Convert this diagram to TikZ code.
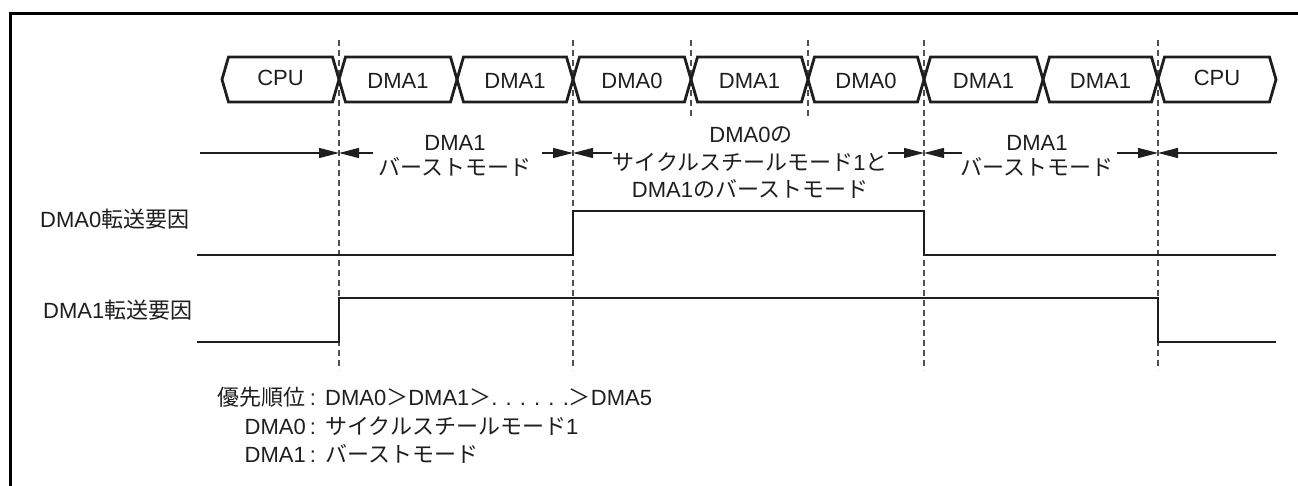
\documentclass[tikz,border=0pt]{standalone}
\usepackage{fontspec}
\setmainfont{Liberation Sans}
\newfontfamily\jp{Noto Sans CJK JP}
\usetikzlibrary{arrows.meta}
\newcommand\fsz{\fontsize{22}{27}\selectfont}
\definecolor{guidegray}{RGB}{80,80,80}
\definecolor{inkgray}{RGB}{30,30,30}
\tikzset{
  frameline/.style={line width=3pt},
  busline/.style={line width=2.8pt, line join=miter, color=inkgray},
  sigline/.style={line width=2.8pt, line join=miter, color=inkgray},
  guide/.style={line width=1.1pt, color=guidegray, dash pattern=on 6pt off 4pt},
  arr/.style={line width=1.3pt, color=inkgray, -{Triangle[length=20pt,width=10pt]}},
  txt/.style={font=\fsz, inner sep=0pt, anchor=base, text=inkgray},
}
\begin{document}
\begin{tikzpicture}[x=1pt,y=-1pt]
\useasboundingbox (0,0) rectangle (1298,486);
% frame
\draw[frameline] (10,486) -- (10,14) -- (1298,14);
% guide lines
\foreach \gx in {339,573,924,1158} { \draw[guide] (\gx,40) -- (\gx,370); }
\foreach \gx in {691,808} { \draw[guide] (\gx,40) -- (\gx,118); }
% bus cells
\foreach \a/\b/\t/\bl/\n in {222/339/CPU/86/c1, 339/457/DMA1/89/c2, 457/573/DMA1/89/c3,
  573/691/DMA0/89/c4, 691/808/DMA1/89/c5, 808/924/DMA0/89/c6,
  924/1043/DMA1/89/c7, 1043/1158/DMA1/89/c8, 1158/1276/CPU/86/c9} {
  \draw[busline] (\a,79.5) -- (\a+6.5,57) -- (\b-6.5,57) -- (\b,79.5) -- (\b-6.5,102) -- (\a+6.5,102) -- cycle;
  \node[txt] (\n) at ({(\a+\b)/2},\bl) {\t};
}
% arrow coordinates
\coordinate (s0) at (200,153);
\coordinate (t1) at (339,153);
\coordinate (e1) at (373,153);
\coordinate (e2) at (542,153);
\coordinate (t2) at (573,153);
\coordinate (e3) at (612,153);
\coordinate (e4) at (888,153);
\coordinate (t3) at (924,153);
\coordinate (e5) at (962,153);
\coordinate (e6) at (1117,153);
\coordinate (t4) at (1158,153);
\coordinate (e7) at (1277,153);
\draw[arr] (s0) -- (t1);
\draw[arr] (e1) -- (t1);
\draw[arr] (e2) -- (t2);
\draw[arr] (e3) -- (t2);
\draw[arr] (e4) -- (t3);
\draw[arr] (e5) -- (t3);
\draw[arr] (e6) -- (t4);
\draw[arr] (e7) -- (t4);
% arrow labels
\node[txt] (m1a) at (455,151) {DMA1};
\node[txt] (m1b) at (455,176) {\jp バーストモード};
\node[txt] (m2a) at (751,143) {DMA0{\jp の}};
\node[txt] (m2b) at (750,171) {{\jp サイクルスチールモード}1{\jp と}};
\node[txt] (m2c) at (750,198) {DMA1{\jp のバーストモード}};
\node[txt] (m3a) at (1037,151) {DMA1};
\node[txt] (m3b) at (1037,176) {\jp バーストモード};
% signals
\node[txt, anchor=base west] (l0) at (40,228) {DMA0{\jp 転送要因}};
\node[txt, anchor=base west] (l1) at (43,318) {DMA1{\jp 転送要因}};
\draw[sigline] (197,255) -- (573,255) -- (573,211) -- (924,211) -- (924,255) -- (1276,255);
\draw[sigline] (197,342) -- (339,342) -- (339,298) -- (1158,298) -- (1158,342) -- (1276,342);
% notes
\node[txt, anchor=base east] (n1) at (306,405) {\jp 優先順位};
\node[txt] (k1) at (313,405) {:};
\node[txt, anchor=base west] (v1) at (325,405) {DMA0{\jp ＞}DMA1{\jp ＞}. . . . . .{\jp ＞}DMA5};
\node[txt, anchor=base east] (n2) at (306,434) {DMA0};
\node[txt] (k2) at (313,434) {:};
\node[txt, anchor=base west] (v2) at (325,434) {{\jp サイクルスチールモード}1};
\node[txt, anchor=base east] (n3) at (306,462) {DMA1};
\node[txt] (k3) at (313,462) {:};
\node[txt, anchor=base west] (v3) at (325,462) {\jp バーストモード};
\end{tikzpicture}
\end{document}
